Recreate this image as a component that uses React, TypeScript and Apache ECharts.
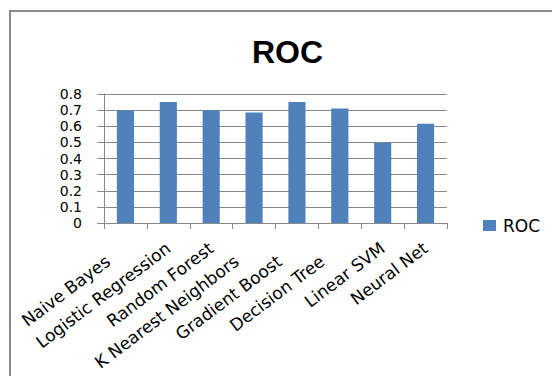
import React, { useEffect, useRef } from "react";
import * as echarts from "echarts";

const categories = [
  "Naive Bayes",
  "Logistic Regression",
  "Random Forest",
  "K Nearest Neighbors",
  "Gradient Boost",
  "Decision Tree",
  "Linear SVM",
  "Neural Net",
];
const rocValues = [0.7, 0.75, 0.7, 0.685, 0.75, 0.71, 0.5, 0.615];
const yTicks = ["0", "0.1", "0.2", "0.3", "0.4", "0.5", "0.6", "0.7", "0.8"];
const shiftedLabels = ["Naive Bayes", "K Nearest Neighbors", "Gradient Boost", "Decision Tree"];

const App: React.FC = () => {
  const ref = useRef<HTMLDivElement>(null);
  useEffect(() => {
    if (!ref.current) return;
    const chart = echarts.init(ref.current, null, { renderer: "svg" });
    const gray = "#888888";
    chart.setOption({
      animation: false,
      backgroundColor: "#ffffff",
      title: {
        text: "ROC",
        left: 247,
        top: 31,
        textStyle: {
          fontFamily: "Liberation Sans",
          fontWeight: "bold",
          fontSize: 32,
          color: "#000000",
        },
      },
      legend: {
        left: 483,
        top: 217,
        padding: 0,
        itemWidth: 13,
        itemHeight: 11,
        itemGap: 6,
        icon: "rect",
        textStyle: { fontFamily: "DejaVu Sans", fontSize: 17, color: "#000000", padding: [0, 0, 0, 2] },
        data: ["ROC"],
      },
      grid: { left: 104, right: 105, top: 94, bottom: 153 },
      xAxis: {
        type: "category",
        data: categories.map((c) =>
          shiftedLabels.includes(c)
            ? { value: c, textStyle: { padding: [23, 22, 0, 0] } }
            : { value: c, textStyle: { padding: [23, 0, 0, 0] } }
        ),
        axisLine: { show: true, lineStyle: { color: gray, width: 1 } },
        axisTick: { show: true, length: 6, alignWithLabel: false, lineStyle: { color: gray } },
        axisLabel: {
          interval: 0,
          rotate: 37,
          margin: 23,
          fontFamily: "DejaVu Sans",
          fontSize: 17,
          color: "#000000",
        },
      },
      yAxis: {
        type: "value",
        min: 0,
        max: 0.8,
        interval: 0.1,
        axisLine: { show: true, lineStyle: { color: gray, width: 1 } },
        axisTick: { show: true, length: 7, lineStyle: { color: gray } },
        splitLine: { show: true, lineStyle: { color: gray, width: 1 } },
        axisLabel: {
          margin: 22,
          fontFamily: "DejaVu Sans",
          fontSize: 14,
          lineHeight: 14,
          color: "#000000",
          formatter: (v: number) => yTicks[Math.round(v * 10)] ?? String(v),
        },
      },
      series: [
        {
          name: "ROC",
          type: "bar",
          data: rocValues,
          barCategoryGap: "60%",
          itemStyle: { color: "#4f81bd" },
        },
      ],
      graphic: [
        {
          type: "rect",
          shape: { x: 10, y: 11, width: 600, height: 420 },
          style: { fill: "none", stroke: "#8a8a8a", lineWidth: 2 },
          silent: true,
        },
      ],
    });
    return () => chart.dispose();
  }, []);
  return (
    <div
      ref={ref}
      style={{ position: "fixed", left: 0, top: 0, width: 552, height: 376 }}
    />
  );
};

export default App;
